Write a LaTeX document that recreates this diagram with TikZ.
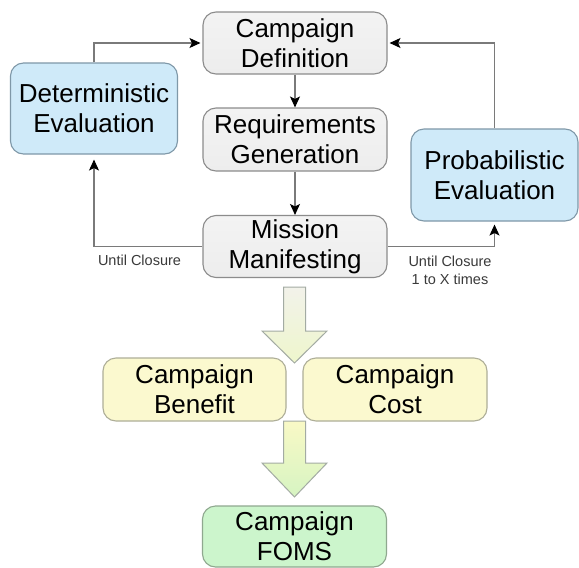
\documentclass[tikz,border=0pt]{standalone}
\usepackage{fontspec}
\setmainfont{Liberation Sans}
\usetikzlibrary{arrows.meta,calc}
\definecolor{grayfill}{HTML}{EDEDED}
\definecolor{grayfilltop}{HTML}{F3F3F3}
\definecolor{grayborder}{HTML}{8C8C8C}
\definecolor{bluefill}{HTML}{CFEAF9}
\definecolor{blueborder}{HTML}{7F98A8}
\definecolor{yellowfill}{HTML}{FBF9CF}
\definecolor{yellowborder}{HTML}{AEAE98}
\definecolor{greenfill}{HTML}{CCF5CC}
\definecolor{greenborder}{HTML}{8FA88F}
\definecolor{linegray}{HTML}{7A7A7A}
\definecolor{labelgray}{HTML}{3A3A3A}
\definecolor{arrAtop}{HTML}{F2F2EA}
\definecolor{arrAbot}{HTML}{EEF6CC}
\definecolor{arrBtop}{HTML}{F9F9C6}
\definecolor{arrBbot}{HTML}{D6F4C2}
\definecolor{bigborder}{HTML}{A3ABA3}
\begin{document}
\begin{tikzpicture}[x=1pt,y=-1pt,
  basebox/.style={rounded corners=13pt, line width=1.1pt, align=center,
    font=\fontsize{26}{30}\selectfont, inner sep=0pt, text=black},
  graybox/.style={basebox, draw=grayborder, top color=grayfilltop, bottom color=grayfill},
  bluebox/.style={basebox, draw=blueborder, fill=bluefill},
  yellowbox/.style={basebox, draw=yellowborder, fill=yellowfill},
  greenbox/.style={basebox, draw=greenborder, fill=greenfill},
  conn/.style={draw=linegray, line width=1.1pt,
    -{Stealth[length=11pt,width=10pt,inset=2.5pt,color=black]}},
  lbl/.style={font=\fontsize{14.5}{18}\selectfont, text=labelgray, align=center, inner sep=0pt},
  bigarrow/.style={draw=bigborder, line width=1pt, line join=miter}
]
\fill[white] (0,0) rectangle (579,568);
\useasboundingbox (0,0) rectangle (579,568);

\node[graybox, minimum width=184pt, minimum height=62pt] (CD) at (295,43) {Campaign\\Definition};
\node[bluebox, minimum width=167pt, minimum height=91pt] (DE) at (94,108.5) {Deterministic\\Evaluation};
\node[graybox, minimum width=184pt, minimum height=63pt] (RG) at (295,139.5) {Requirements\\Generation};
\node[bluebox, minimum width=167pt, minimum height=92pt] (PE) at (494.5,175) {Probabilistic\\Evaluation};
\node[graybox, minimum width=184pt, minimum height=62pt] (MM) at (295,246.5) {Mission\\Manifesting};
\node[yellowbox, minimum width=183pt, minimum height=63pt] (CB) at (194.5,389.5) {Campaign\\Benefit};
\node[yellowbox, minimum width=184pt, minimum height=63pt] (CC) at (395,389.5) {Campaign\\Cost};
\node[greenbox, minimum width=184pt, minimum height=61pt] (FO) at (294.5,536.5) {Campaign\\FOMS};

\draw[conn] (CD.south) -- (RG.north);
\draw[conn] (RG.south) -- (MM.north);
\draw[conn, shorten >=5pt] (MM.west) -| (DE.south);
\draw[conn, shorten >=2pt] (DE.north) |- (CD.west);
\draw[conn, shorten >=3pt] (MM.east) -| (PE.south);
\draw[conn, shorten >=2pt] (PE.north) |- (CD.east);

\node[lbl] (uc1) at (139.5,260) {Until Closure};
\node[lbl] (uc2) at (450,270) {Until Closure\\1 to X times};

\shade[bigarrow, top color=arrAtop, bottom color=arrAbot]
  (283.5,287) -- (305.5,287) -- (305.5,331) -- (327,331) -- (294.5,363)
  -- (262,331) -- (283.5,331) -- cycle;
\shade[bigarrow, top color=arrBtop, bottom color=arrBbot]
  (283.5,421) -- (305.5,421) -- (305.5,463) -- (327,463) -- (294.5,497)
  -- (262,463) -- (283.5,463) -- cycle;
\end{tikzpicture}
\end{document}
